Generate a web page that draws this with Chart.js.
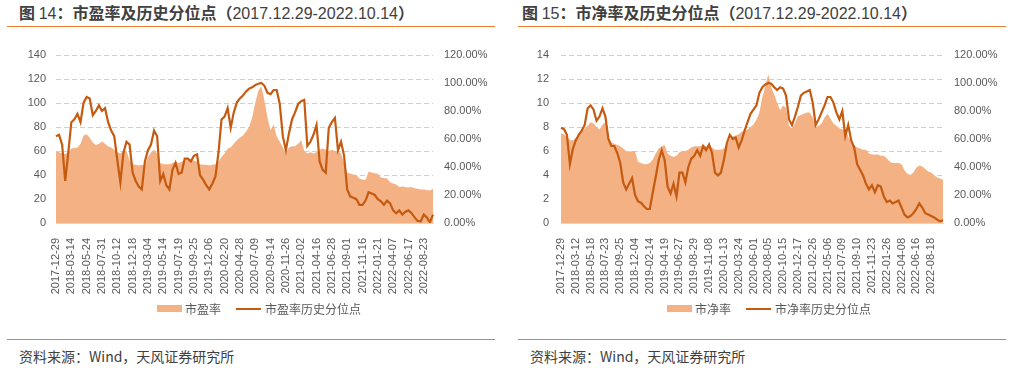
<!DOCTYPE html>
<html>
<head>
<meta charset="utf-8">
<script src="https://cdn.jsdelivr.net/npm/chart.js@4.4.0/dist/chart.umd.min.js"></script>
<style>
  body { margin: 0; width: 1027px; height: 368px; background: #fff; position: relative; overflow: hidden;
         font-family: "Noto Sans CJK SC", sans-serif; }
  .title { position: absolute; top: 1px; line-height: 22px; font-size: 16px; font-weight: bold; color: #404040; white-space: nowrap; }
  .title .n { font-weight: normal; font-family: "Liberation Sans", sans-serif; }
  .rule { position: absolute; height: 1px; background: #ED7D31; }
  .src { position: absolute; top: 346px; line-height: 20px; font-size: 14px; color: #404040; white-space: nowrap; }
  .legend { position: absolute; top: 299px; line-height: 16px; font-size: 12px; color: #595959; white-space: nowrap; }
  .legend span { display: inline-block; vertical-align: middle; }
  .sw-area { width: 25px; height: 7px; background: #F4B183; margin-right: 3px; }
  .sw-line { width: 25px; height: 2px; background: #C55A11; margin-right: 4px; margin-left: 15px; }
  canvas { position: absolute; top: 30px; }
</style>
</head>
<body>

<div class="title" style="left:19px">图 <span class="n">14</span>：市盈率及历史分位点（<span class="n">2017.12.29-2022.10.14</span>）</div>
<div class="rule" style="left:7px;width:488px;top:26px"></div>
<canvas id="pe" width="513" height="270" style="left:0"></canvas>
<div class="legend" style="left:157px"><span class="sw-area"></span><span>市盈率</span><span class="sw-line"></span><span>市盈率历史分位点</span></div>
<div class="rule" style="left:7px;width:488px;top:339px"></div>
<div class="src" style="left:19px">资料来源：Wind，天风证券研究所</div>

<div class="title" style="left:522px">图 <span class="n">15</span>：市净率及历史分位点（<span class="n">2017.12.29-2022.10.14</span>）</div>
<div class="rule" style="left:518px;width:488px;top:26px"></div>
<canvas id="pb" width="514" height="270" style="left:513px"></canvas>
<div class="legend" style="left:667px"><span class="sw-area"></span><span>市净率</span><span class="sw-line"></span><span>市净率历史分位点</span></div>
<div class="rule" style="left:518px;width:488px;top:339px"></div>
<div class="src" style="left:530px">资料来源：Wind，天风证券研究所</div>

<script>
// Tick dates shown on the x axis (one every 5 samples)
const peTickDates = ['2017-12-29','2018-03-14','2018-05-24','2018-07-31','2018-10-12','2018-12-18','2019-03-04',
  '2019-05-14','2019-07-19','2019-09-25','2019-12-06','2020-02-20','2020-04-28','2020-07-09','2020-09-14',
  '2020-11-26','2021-02-02','2021-04-16','2021-06-28','2021-09-01','2021-11-16','2022-01-21','2022-04-07',
  '2022-06-17','2022-08-23'];
const pbTickDates = ['2017-12-29','2018-03-12','2018-05-18','2018-07-23','2018-09-25','2018-12-04','2019-02-14',
  '2019-04-19','2019-06-27','2019-08-29','2019-11-08','2020-01-13','2020-03-24','2020-06-01','2020-08-05',
  '2020-10-15','2020-12-17','2021-02-26','2021-05-06','2021-07-09','2021-09-10','2021-11-23','2022-01-26',
  '2022-04-08','2022-06-16','2022-08-18'];

// 市盈率 (left axis) and its historical percentile in % (right axis)
const peValues = [59.5,59,58,57.5,59,62,62.5,63,66,73, 74,71,67,65,66,68,66,64,63,61,
  59,58,60,60,52,49,48.5,48,48.5,48, 55,59,61,58,50,49,49,49,50,51,
  50,51,52,53,53,52,51,49,48.5,48.5, 48,48.5,49,51,55,58,62,63,66,69,
  71,73,76,80,88,100,110,114,102,88, 77,82,72,68,63,58,63,64,64,66,
  69,60,58,59,58,59,61,62,61,60, 61,60,60,58,50,42,41,40.5,40,37,
  36,36,43,42,41.5,41,38,37.5,37,34, 33,32,30,30.5,30,29.5,30,29,28.5,28,
  28,27.5,27,28.5];
const peRank = [62,63,56,30,50,72,74,78,72,86, 90,89,77,80,84,80,82,72,66,62,
  45,29,50,58,56,36,30,26,24,44, 52,56,66,62,30,35,27,24,38,43,
  35,36,46,46,44,48,49,34,31,27, 24,28,33,50,74,76,82,68,79,86,
  89,91,94,96,97,98.5,99.5,100,98,93, 92,95,95,85,62,52,64,74,79,85,
  87,88,55,58,63,70,44,38,36,68, 72,75,52,58,48,24,19,18,17,13,
  13,16,22,21,20,17,15.5,13,16,14, 9,7,9,6,8,9,7,4,1.5,1.2,
  6,4,0.5,6];

// 市净率 (left axis) and its historical percentile in % (right axis)
const pbValues = [7.5,7.4,7.2,6.9,6.9,7.1,7.3,7.6,7.9,8.1, 8.4,8.3,8.0,7.8,8.2,8.4,7.2,6.7,6.6,6.5,
  6.4,6.2,6.0,5.9,6.0,6.0,5.1,5.0,4.9,4.9, 5.0,5.3,5.8,6.2,6.4,6.5,5.8,5.6,5.5,5.6,
  5.9,6.0,6.0,6.1,6.3,6.4,6.4,6.4,6.5,6.4, 6.3,6.3,6.1,6.1,6.1,6.2,6.5,7.0,7.2,7.3,
  7.4,7.6,7.7,7.8,8.0,8.2,8.6,9.2,10.5,11.4, 12.4,11.3,10.7,10.0,9.4,9.8,9.6,8.1,7.9,8.3,
  8.9,9.0,9.1,9.2,9.2,8.8,8.0,8.1,8.3,8.8, 9.1,8.7,8.3,8.1,7.9,7.8,7.8,7.2,6.7,6.5,
  6.3,6.2,6.1,6.1,5.8,5.7,5.7,5.7,5.6,5.6, 5.4,5.1,5.0,5.0,5.0,4.9,4.4,4.1,4.0,4.2,
  4.6,4.8,4.7,4.5,4.3,4.2,4.0,3.8,3.7,3.6];
const pbRank = [68,67,63,42,53,59,63,66,70,82, 84,81,73,76,82,76,60,55,55,50,
  43,29,24,28,32,20,15.5,14.5,12,10, 10,22,33,45,52,45,26,21,28,19,
  36,36,29,40,46,48,52,48,55,52, 56,50,36,34,36,45,57,63,60,61,
  54,59,66,72,78,81,84,93,97,99, 100,99.5,97,95,97,96,91,74,70,76,
  83,91,93,94,95,86,70,74,79,84, 90,90,86,79,74,80,62,70,59,54,
  42,38,34,28,24,27,22,27,26,19, 15,16,14,15,16,11,6,4,5,7,
  10,14,11,7,6,5,4,2.5,1.2,2];

const tickFont = { family: 'Liberation Sans', size: 11 };
const tickColor = '#595959';

// Dashed horizontal grid at the left-axis ticks (skips the 0 baseline)
const dashedGrid = {
  id: 'dashedGrid',
  beforeDatasetsDraw(chart) {
    const { ctx, chartArea, scales } = chart;
    const y = scales.y;
    ctx.save();
    ctx.strokeStyle = '#d0d0d0';
    ctx.lineWidth = 1;
    ctx.setLineDash([5, 3]);
    y.ticks.forEach(t => {
      if (t.value === 0) return;
      const py = Math.round(y.getPixelForValue(t.value)) + 0.5;
      ctx.beginPath();
      ctx.moveTo(chartArea.left, py);
      ctx.lineTo(chartArea.right, py);
      ctx.stroke();
    });
    ctx.restore();
  }
};

// Builds the category labels: a date every 5 samples, blank otherwise
function buildLabels(count, tickDates) {
  const labels = [];
  for (let i = 0; i < count; i++) {
    labels.push(i % 5 === 0 && tickDates[i / 5] ? tickDates[i / 5] : '');
  }
  return labels;
}

function makeChart(id, opts) {
  const ctx = document.getElementById(id).getContext('2d');
  return new Chart(ctx, {
    type: 'line',
    plugins: [dashedGrid],
    data: {
      labels: buildLabels(opts.values.length, opts.tickDates),
      datasets: [
        {
          label: opts.rankName,
          data: opts.rank,
          yAxisID: 'y1',
          borderColor: '#C55A11',
          borderWidth: 2.2,
          pointRadius: 0,
          fill: false,
          order: 0
        },
        {
          label: opts.valueName,
          data: opts.values,
          yAxisID: 'y',
          backgroundColor: '#F4B183',
          borderWidth: 0,
          pointRadius: 0,
          fill: 'origin',
          order: 1
        }
      ]
    },
    options: {
      responsive: false,
      animation: false,
      devicePixelRatio: 1,
      layout: { padding: { top: 25, left: 0, right: 0, bottom: 0 } },
      plugins: { legend: { display: false }, tooltip: { enabled: false } },
      scales: {
        x: {
          grid: { display: false },
          border: { display: true, color: '#d9d9d9', width: 1 },
          ticks: {
            autoSkip: false, minRotation: 90, maxRotation: 90, padding: 7,
            color: tickColor, font: tickFont,
            callback: function(v) { return this.getLabelForValue(v); }
          },
          afterFit: s => { s.height = 77; }
        },
        y: {
          min: 0, max: opts.leftMax,
          ticks: { stepSize: opts.leftStep, padding: opts.leftPad, color: tickColor, font: tickFont },
          grid: { display: false, drawTicks: false },
          border: { display: false },
          afterFit: s => { s.width = opts.leftWidth; }
        },
        y1: {
          position: 'right',
          min: 0, max: 120,
          ticks: {
            stepSize: 20, padding: 11, color: tickColor, font: tickFont,
            callback: v => v.toFixed(2) + '%'
          },
          grid: { display: false, drawTicks: false },
          border: { display: false },
          afterFit: s => { s.width = opts.rightWidth; }
        }
      }
    }
  });
}

makeChart('pe', {
  values: peValues, rank: peRank, tickDates: peTickDates,
  valueName: '市盈率', rankName: '市盈率历史分位点',
  leftMax: 140, leftStep: 20, leftPad: 10, leftWidth: 56, rightWidth: 80
});
makeChart('pb', {
  values: pbValues, rank: pbRank, tickDates: pbTickDates,
  valueName: '市净率', rankName: '市净率历史分位点',
  leftMax: 14, leftStep: 2, leftPad: 12, leftWidth: 48, rightWidth: 84
});
</script>
</body>
</html>
